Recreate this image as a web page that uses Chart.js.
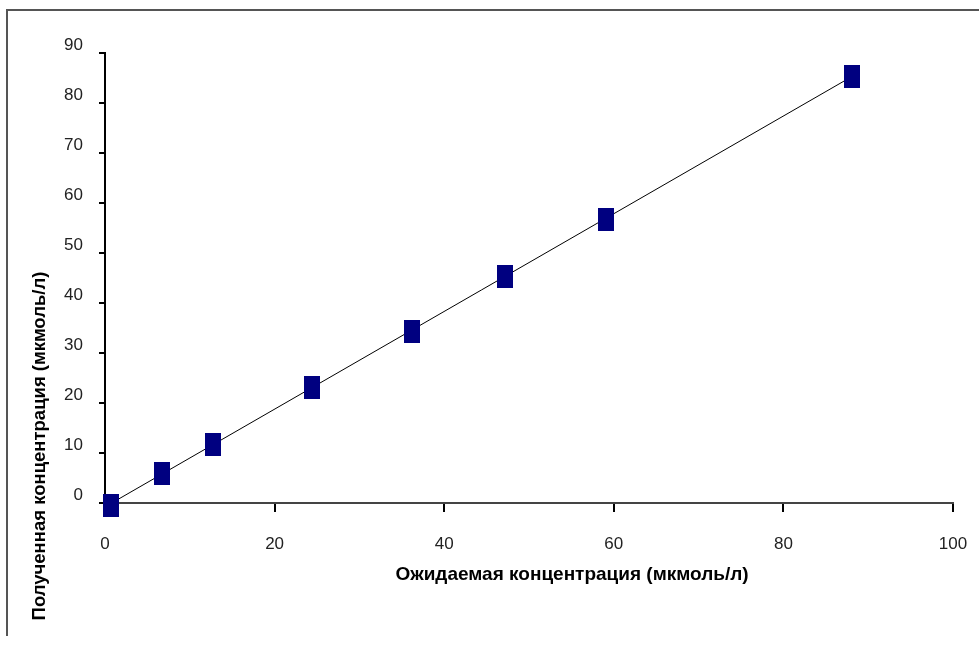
<!DOCTYPE html>
<html>
<head>
<meta charset="utf-8">
<script src="https://cdn.jsdelivr.net/npm/chart.js@4.4.1/dist/chart.umd.min.js"></script>
<style>
  html, body { margin: 0; padding: 0; background: #fff; }
  canvas { display: block; }
</style>
</head>
<body>
<canvas id="calib" width="979" height="645"></canvas>
<script>
// Ожидаемая / полученная концентрация (мкмоль/л)
const expected = [0.7, 6.7, 12.7, 24.4, 36.2, 47.2, 59.1, 88.1];
const measured = [-0.4, 6.0, 11.8, 23.2, 34.4, 45.4, 56.8, 85.4];
const xTicks = [0, 20, 40, 60, 80, 100];
const yTicks = [0, 10, 20, 30, 40, 50, 60, 70, 80, 90];
const xTitle = "Ожидаемая концентрация (мкмоль/л)";
const yTitle = "Полученная концентрация (мкмоль/л)";

// linear trend line through the points (least squares)
const n = expected.length;
const mx = expected.reduce((a, b) => a + b, 0) / n;
const my = measured.reduce((a, b) => a + b, 0) / n;
let sxy = 0, sxx = 0;
for (let i = 0; i < n; i++) {
  sxy += (expected[i] - mx) * (measured[i] - my);
  sxx += (expected[i] - mx) ** 2;
}
const slope = sxy / sxx;
const icpt = my - slope * mx;
const xMin = Math.min(...expected), xMax = Math.max(...expected);

// excel-like tall navy marker
const marker = document.createElement('canvas');
marker.width = 16; marker.height = 23;
const mctx = marker.getContext('2d');
mctx.fillStyle = '#000080';
mctx.fillRect(0, 0, 16, 23);

const frameAndTitles = {
  id: 'frameAndTitles',
  beforeDraw(chart) {
    const c = chart.ctx;
    c.save();
    c.fillStyle = '#fff';
    c.fillRect(0, 0, chart.width, chart.height);
    c.restore();
  },
  afterDraw(chart) {
    const c = chart.ctx;
    c.save();
    c.strokeStyle = '#555';
    c.lineWidth = 2;
    c.beginPath();
    c.moveTo(7, 636); c.lineTo(7, 10); c.lineTo(985, 10);
    c.stroke();
    c.fillStyle = '#000';
    c.font = 'bold 19px "Liberation Sans", Arial, sans-serif';
    c.textAlign = 'center';
    c.textBaseline = 'middle';
    c.fillText(xTitle, 572, 575);
    c.font = 'bold 18.5px "Liberation Sans", Arial, sans-serif';
    c.translate(40, 446);
    c.rotate(-Math.PI / 2);
    c.fillText(yTitle, 0, 0);
    c.restore();
  }
};

new Chart(document.getElementById('calib'), {
  type: 'scatter',
  data: {
    datasets: [{
      label: 'points',
      data: expected.map((x, i) => ({x: x, y: measured[i]})),
      pointStyle: marker,
      clip: false
    }, {
      type: 'line',
      label: 'trend',
      data: [{x: xMin, y: icpt + slope * xMin}, {x: xMax, y: icpt + slope * xMax}],
      borderColor: '#000',
      borderWidth: 1,
      pointRadius: 0,
      fill: false,
      clip: false
    }]
  },
  options: {
    responsive: false,
    animation: false,
    layout: { padding: { left: 0, top: 53, right: 26, bottom: 0 } },
    plugins: { legend: { display: false }, tooltip: { enabled: false } },
    scales: {
      x: {
        type: 'linear',
        min: 0, max: 100,
        afterBuildTicks: s => { s.ticks = xTicks.map(v => ({value: v})); },
        afterFit: s => { s.height = 142; s.paddingRight = 0; s.paddingLeft = 0; },
        grid: { drawOnChartArea: false, drawTicks: true, tickLength: 9, color: '#000', lineWidth: 2 },
        border: { display: true, color: '#444', width: 2 },
        ticks: { padding: 22, color: '#222', font: { family: '"Liberation Sans", Arial, sans-serif', size: 17 } }
      },
      y: {
        type: 'linear',
        min: 0, max: 90,
        afterBuildTicks: s => { s.ticks = yTicks.map(v => ({value: v})); },
        afterFit: s => { s.width = 105; s.paddingTop = 0; s.paddingBottom = 0; },
        grid: { drawOnChartArea: false, drawTicks: true, tickLength: 6, color: '#000', lineWidth: 2 },
        border: { display: true, color: '#000', width: 2 },
        ticks: { padding: 16, labelOffset: -8, color: '#222', font: { family: '"Liberation Sans", Arial, sans-serif', size: 17 } }
      }
    }
  },
  plugins: [frameAndTitles]
});
</script>
</body>
</html>
